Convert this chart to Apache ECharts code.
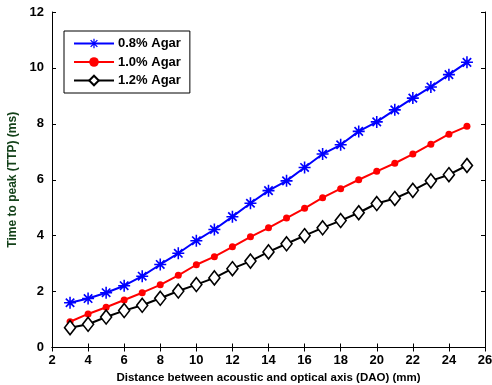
<!DOCTYPE html>
<html>
<head>
<meta charset="utf-8">
<script src="https://cdn.jsdelivr.net/npm/echarts@6/dist/echarts.min.js"></script>
<style>
  html, body { margin: 0; padding: 0; background: #fff; overflow: hidden; }
  #chart { width: 492px; height: 385px; }
</style>
</head>
<body>
<div id="chart"></div>
<script>
// Distance between acoustic and optical axis (mm)
const dao = [3, 4, 5, 6, 7, 8, 9, 10, 11, 12, 13, 14, 15, 16, 17, 18, 19, 20, 21, 22, 23, 24, 25];

// Time to peak (ms) per agar concentration
const agar08 = [1.60, 1.75, 1.96, 2.21, 2.55, 2.97, 3.37, 3.82, 4.22, 4.68, 5.16, 5.61, 5.96, 6.44, 6.92, 7.25, 7.73, 8.07, 8.50, 8.92, 9.32, 9.76, 10.20];
const agar10 = [0.92, 1.20, 1.44, 1.70, 1.96, 2.24, 2.58, 2.96, 3.25, 3.60, 3.96, 4.28, 4.63, 4.98, 5.36, 5.68, 6.00, 6.30, 6.59, 6.92, 7.27, 7.63, 7.91];
const agar12 = [0.71, 0.83, 1.09, 1.32, 1.51, 1.76, 2.02, 2.25, 2.49, 2.82, 3.09, 3.42, 3.71, 4.00, 4.28, 4.54, 4.82, 5.15, 5.33, 5.62, 5.96, 6.18, 6.51];

const seriesNames = ['0.8% Agar', '1.0% Agar', '1.2% Agar'];
const xTicks = { min: 2, max: 26, interval: 2 };
const yTicks = { min: 0, max: 12, interval: 2 };

// eight-armed asterisk marker
const asterisk = 'path://M8.7 0L11.3 0L11.3 20L8.7 20Z M0 8.7L20 8.7L20 11.3L0 11.3Z ' +
  'M2 4L4 2L18 16L16 18Z M16 2L18 4L4 18L2 16Z';

const pairs = arr => arr.map((v, i) => [dao[i], v]);
const font = 'Liberation Sans, Arial, sans-serif';

const tickStyle = { show: true, inside: true, length: 4, lineStyle: { color: '#000', width: 1 } };
const lineStyleAxis = { show: true, lineStyle: { color: '#000', width: 1 } };
const labelStyle = { color: '#000', fontWeight: 'bold', fontSize: 13, fontFamily: font };

const chart = echarts.init(document.getElementById('chart'), null, { renderer: 'canvas', width: 492, height: 385 });
chart.setOption({
  backgroundColor: '#fff',
  animation: false,
  grid: { left: 52, right: 7, top: 12, bottom: 37.5, containLabel: false, outerBoundsMode: 'none' },
  legend: {
    orient: 'vertical',
    left: 64,
    top: 31,
    padding: [6, 9, 6, 9],
    itemGap: 5.5,
    itemWidth: 40,
    itemHeight: 12,
    borderColor: '#000',
    borderWidth: 1,
    backgroundColor: '#fff',
    textStyle: { color: '#000', fontWeight: 'bold', fontSize: 13, fontFamily: font, padding: [0, 0, 0, -1] },
    data: seriesNames
  },
  xAxis: [{
    type: 'value',
    min: xTicks.min, max: xTicks.max, interval: xTicks.interval,
    name: 'Distance between acoustic and optical axis (DAO) (mm)',
    nameLocation: 'middle',
    nameGap: 23,
    nameTextStyle: { color: '#000', fontWeight: 'bold', fontSize: 11.5, fontFamily: font },
    axisLine: lineStyleAxis,
    axisTick: tickStyle,
    axisLabel: Object.assign({ margin: 6 }, labelStyle),
    splitLine: { show: false }
  }, {
    type: 'value',
    position: 'top',
    min: xTicks.min, max: xTicks.max, interval: xTicks.interval,
    axisLine: lineStyleAxis,
    axisTick: tickStyle,
    axisLabel: { show: false },
    splitLine: { show: false }
  }],
  yAxis: [{
    type: 'value',
    min: yTicks.min, max: yTicks.max, interval: yTicks.interval,
    name: 'Time to peak (TTP) (ms)',
    nameLocation: 'middle',
    nameGap: 26,
    nameTextStyle: { color: '#14421a', fontWeight: 'bold', fontSize: 12, fontFamily: font },
    axisLine: lineStyleAxis,
    axisTick: tickStyle,
    axisLabel: Object.assign({ margin: 8 }, labelStyle),
    splitLine: { show: false }
  }, {
    type: 'value',
    position: 'right',
    min: yTicks.min, max: yTicks.max, interval: yTicks.interval,
    axisLine: lineStyleAxis,
    axisTick: tickStyle,
    axisLabel: { show: false },
    splitLine: { show: false }
  }],
  series: [{
    name: seriesNames[0],
    type: 'line',
    data: pairs(agar08),
    symbol: asterisk,
    symbolSize: 12,
    showAllSymbol: true,
    lineStyle: { color: '#0000ff', width: 2 },
    itemStyle: { color: '#0000ff' }
  }, {
    name: seriesNames[1],
    type: 'line',
    data: pairs(agar10),
    symbol: 'circle',
    symbolSize: 7,
    showAllSymbol: true,
    lineStyle: { color: '#ff0000', width: 2 },
    itemStyle: { color: '#ff0000' }
  }, {
    name: seriesNames[2],
    type: 'line',
    data: pairs(agar12),
    symbol: 'diamond',
    symbolSize: [11, 14],
    showAllSymbol: true,
    lineStyle: { color: '#000', width: 2 },
    itemStyle: { color: '#fff', borderColor: '#000', borderWidth: 1.6 }
  }]
});
</script>
</body>
</html>
